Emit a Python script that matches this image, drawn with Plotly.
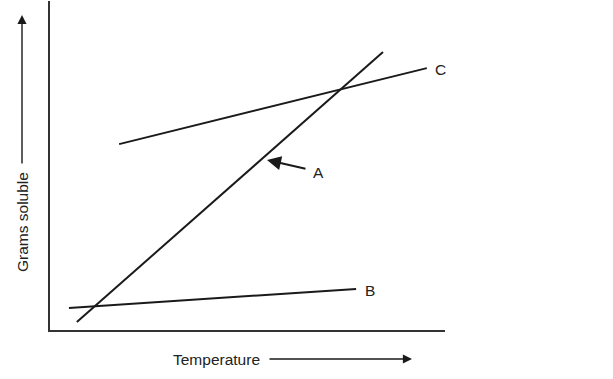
import plotly.graph_objects as go

# Data (arbitrary units: temperature 0-100, grams soluble 0-100)
series_names = ["A", "B", "C"]
temp_A = [6.8, 84.3]
grams_A = [2.4, 84.5]
temp_B = [4.8, 77.5]
grams_B = [6.7, 12.5]
temp_C = [17.5, 95.4]
grams_C = [56.5, 79.6]

x_title = "Temperature"
y_title = "Grams soluble"

line_style = dict(color="#1a1a1a", width=2)
font = dict(family="Liberation Sans, Arial, sans-serif", size=15.5, color="#222222")


def px_x(p):
    return (p - 50) / 395 * 100


def px_y(p):
    return (330 - p) / 329 * 100


fig = go.Figure()
for name, xs, ys in [("A", temp_A, grams_A), ("B", temp_B, grams_B), ("C", temp_C, grams_C)]:
    fig.add_trace(go.Scatter(x=xs, y=ys, mode="lines", line=line_style, name=name,
                             showlegend=False, hoverinfo="skip"))

annotations = [
    dict(x=px_x(440), y=px_y(69), text="C", showarrow=False, xanchor="center", font=font),
    dict(x=px_x(370), y=px_y(290), text="B", showarrow=False, xanchor="center", font=font),
    dict(x=px_x(318), y=px_y(172), text="A", showarrow=False, xanchor="center", font=font),
    # arrow pointing to line A
    dict(x=px_x(267), y=px_y(160), ax=px_x(307), ay=px_y(169), axref="x", ayref="y", text="",
         showarrow=True, arrowhead=2, arrowsize=1.4, arrowwidth=2, arrowcolor="#1a1a1a"),
    # x title
    dict(xref="paper", yref="paper", x=(216 - 50) / 395, y=(330 - 359) / 329, text=x_title,
         showarrow=False, xanchor="center", yanchor="middle", font=font),
    dict(xref="paper", yref="paper", x=(412 - 50) / 395, y=(330 - 359) / 329, ax=-144, ay=0,
         text="", showarrow=True, arrowhead=2, arrowsize=1.3, arrowwidth=1.4, arrowcolor="#1a1a1a"),
    # y title
    dict(xref="paper", yref="paper", x=(22 - 50) / 395, y=(330 - 222) / 329, text=y_title,
         textangle=-90, showarrow=False, xanchor="center", yanchor="middle", font=font),
    dict(xref="paper", yref="paper", x=(22 - 50) / 395, y=(330 - 15) / 329, ax=0, ay=150,
         text="", showarrow=True, arrowhead=2, arrowsize=1.3, arrowwidth=1.4, arrowcolor="#1a1a1a"),
]

fig.update_layout(
    width=613, height=379,
    margin=dict(l=50, r=168, t=1, b=49),
    paper_bgcolor="white", plot_bgcolor="white",
    xaxis=dict(range=[0, 100], showline=True, linecolor="#333333", linewidth=2,
               showgrid=False, zeroline=False, showticklabels=False, ticks=""),
    yaxis=dict(range=[0, 100], showline=True, linecolor="#333333", linewidth=2,
               showgrid=False, zeroline=False, showticklabels=False, ticks=""),
    annotations=annotations,
)

fig.write_html("out.html")
